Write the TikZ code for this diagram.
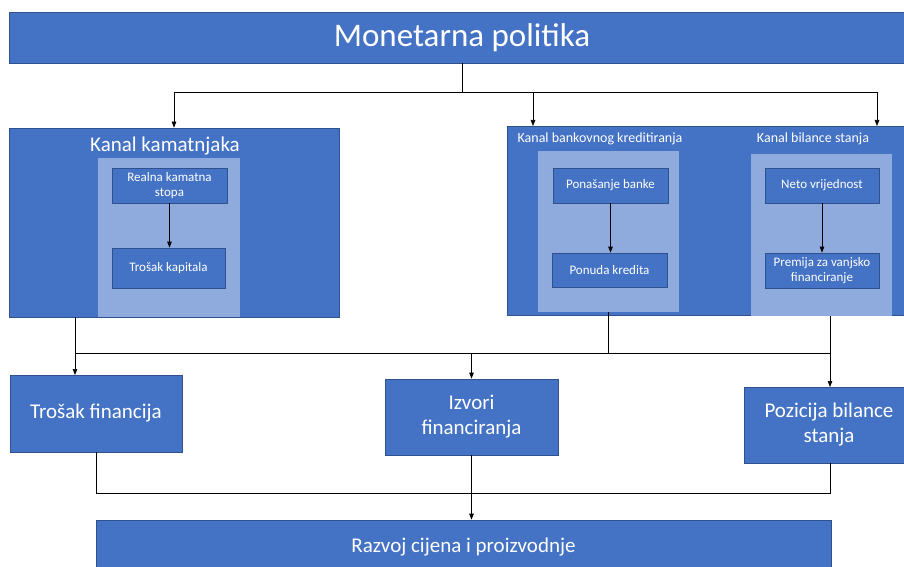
\documentclass[tikz,border=0pt]{standalone}
\usepackage{fontspec}
\setmainfont{Carlito}
\usetikzlibrary{arrows.meta}
\definecolor{dblue}{HTML}{4472C4}
\definecolor{lblue}{HTML}{8FAADC}
\definecolor{edgeb}{HTML}{2F528F}
\tikzset{
  box/.style={draw=edgeb, line width=0.7pt, fill=dblue, text=white, inner sep=0pt, align=center, rectangle},
  panel/.style={fill=lblue, draw=none, inner sep=0pt, rectangle},
  ttl/.style={text=white, inner sep=0pt},
  big/.style={font=\fontsize{21}{25}\selectfont},
  small/.style={font=\fontsize{13}{15}\selectfont},
  arr/.style={-{Triangle[length=6pt,width=4.5pt]}, line width=0.7pt},
  ln/.style={line width=0.7pt}
}
\begin{document}
\begin{tikzpicture}[x=1pt,y=-1pt]
\useasboundingbox[fill=white] (0,0) rectangle (904,567);
% top
\node[box, minimum width=906, minimum height=51, font=\fontsize{33}{38}\selectfont] (mp) at (462,37.5) {Monetarna politika};
% left channel
\node[box, minimum width=330, minimum height=189] (kk) at (174,222.5) {};
\node[ttl, font=\fontsize{21}{25}\selectfont] (kkt) at (165,146) {Kanal kamatnjaka};
\node[panel, minimum width=142, minimum height=158.5] (kkp) at (169,237.5) {};
\node[box, small, minimum width=115, minimum height=35] (rks) at (169.5,185.5) {Realna kamatna\\stopa};
\node[box, small, minimum width=113, minimum height=40] (tk) at (168.5,268) {Trošak kapitala};
% right channels
\node[box, minimum width=408, minimum height=189] (rb) at (711,220.5) {};
\node[ttl, font=\fontsize{14}{17}\selectfont] (t1) at (600,139) {Kanal bankovnog kreditiranja};
\node[ttl, font=\fontsize{14}{17}\selectfont] (t2) at (813,139) {Kanal bilance stanja};
\node[panel, minimum width=141, minimum height=161] (p1) at (608.5,231.5) {};
\node[panel, minimum width=141, minimum height=161.5] (p2) at (821.5,235) {};
\node[box, small, minimum width=115, minimum height=35] (pb) at (610.5,185.5) {Ponašanje banke};
\node[box, small, minimum width=115, minimum height=34] (pk) at (609.5,270) {Ponuda kredita};
\node[box, small, minimum width=114, minimum height=35] (nv) at (822,185.5) {Neto vrijednost};
\node[box, small, minimum width=114, minimum height=35] (pf) at (822,270.5) {Premija za vanjsko\\financiranje};
% middle row
\node[box, big, minimum width=172, minimum height=77] (tf) at (96,413.5) {Trošak financija};
\node[box, big, minimum width=173, minimum height=76] (izf) at (471.5,417) {Izvori\\financiranja};
\node[box, big, minimum width=170, minimum height=76] (pbs) at (829,425) {Pozicija bilance\\stanja};
% bottom
\node[box, big, minimum width=735, minimum height=55] (rcp) at (463.5,547.5) {Razvoj cijena i proizvodnje};
% coordinates
\coordinate (j1) at (462,92);
\coordinate (rbA) at (533,126);
\coordinate (rbB) at (877,126);
\coordinate (tfin) at (75,375);
\coordinate (h2L) at (75,353);
\coordinate (h2R) at (830,353);
\coordinate (pbsin) at (830,387);
\coordinate (h3R) at (830,493);
% connectors top
\draw[ln] (mp.south) -- (j1);
\draw[arr] (j1) -| (kk.north);
\draw[arr] (j1) -| (rbA);
\draw[arr] (j1) -| (rbB);
% inner arrows
\draw[arr] (rks.south) -- (rks.south |- tk.north);
\draw[arr] (pb.south) -- (pb.south |- pk.north);
\draw[arr] (nv.south) -- (nv.south |- pf.north);
% middle connectors
\draw[arr] (kk.south -| tfin) -- (tfin);
\draw[ln] (h2L) -- (h2R);
\draw[ln] (p1.south) -- (p1.south |- h2L);
\draw[arr] (p2.south -| pbsin) -- (pbsin);
\draw[arr] (izf.north |- h2L) -- (izf.north);
% bottom connectors
\draw[ln] (tf.south) |- (h3R) -- (pbs.south -| h3R);
\draw[arr] (izf.south) -- (izf.south |- rcp.north);
\end{tikzpicture}
\end{document}
